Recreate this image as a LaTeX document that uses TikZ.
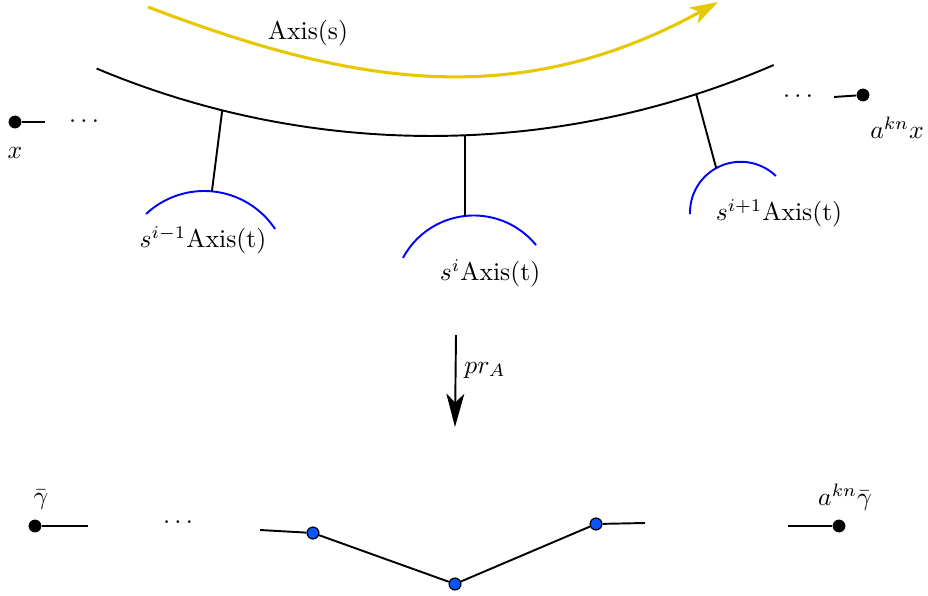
\documentclass[tikz,border=0pt]{standalone}
\usetikzlibrary{arrows.meta}
\definecolor{axisyellow}{RGB}{230,200,0}
\definecolor{ptblue}{RGB}{10,85,255}
\begin{document}
\begin{tikzpicture}[x=0.39pt,y=-0.39pt,
  bigdot/.style={circle,fill=black,inner sep=0pt,minimum size=5pt},
  bluept/.style={circle,draw=black,fill=ptblue,line width=0.5pt,inner sep=0pt,minimum size=4.6pt},
  curve/.style={line width=0.75pt},
  tcurve/.style={blue,line width=0.75pt},
  lbl/.style={inner sep=0pt}]
\useasboundingbox (0,0) rectangle (928,596);

% yellow arrow Axis(s)
\coordinate (ys) at (148,7);
\coordinate (ye) at (718,2);
\draw[axisyellow,line width=1.2pt,-{Stealth[length=11pt,width=7pt,inset=3pt]}]
  (ys) .. controls (345,82) and (513,115) .. (ye);
\node[lbl] (laxs) at (308,33) {Axis(s)};

% main black arc
\draw[curve] plot[domain=66.6:112.8,samples=80,variable=\t]
  ({431+863*cos(\t)},{-727+863*sin(\t)});
\coordinate (b1) at ({431+863*cos(104)},{-727+863*sin(104)});
\coordinate (b2) at ({431+863*cos(87.74)},{-727+863*sin(87.74)});
\coordinate (b3) at ({431+863*cos(72.1)},{-727+863*sin(72.1)});

% blue arcs
\draw[tcurve] plot[domain=-133.1:-33.6,samples=40,variable=\t]
  ({204.2+85.1*cos(\t)},{276.1+85.1*sin(\t)});
\coordinate (a1) at ({204.2+85.1*cos(-84.8)},{276.1+85.1*sin(-84.8)});
\draw[tcurve] plot[domain=-151.9:-39.2,samples=40,variable=\t]
  ({473.8+80.3*cos(\t)},{295.8+80.3*sin(\t)});
\coordinate (a2) at ({473.8+80.3*cos(-96.3)},{295.8+80.3*sin(-96.3)});
\draw[tcurve] plot[domain=-181.7:-46,samples=40,variable=\t]
  ({740.7+50.7*cos(\t)},{212.5+50.7*sin(\t)});
\coordinate (a3) at ({740.7+50.7*cos(-118.9)},{212.5+50.7*sin(-118.9)});

% branches
\draw[curve] (b1) -- (a1);
\draw[curve] (b2) -- (a2);
\draw[curve] (b3) -- (a3);

\node[lbl] (lt1) at (203,240) {$s^{i-1}$Axis(t)};
\node[lbl] (lt2) at (490,273) {$s^{i}$Axis(t)};
\node[lbl] (lt3) at (779,213) {$s^{i+1}$Axis(t)};

% ends
\node[bigdot] (xdot) at (15,122) {};
\coordinate (xe) at (45,122);
\draw[curve] (xdot) -- (xe);
\node[lbl] (lx) at (15,153) {$x$};
\node[lbl] (d1) at (84,122) {$\cdots$};

\node[lbl] (d2) at (798,97) {$\cdots$};
\coordinate (rs) at (834,97);
\node[bigdot] (rdot) at (863,95) {};
\draw[curve] (rs) -- (rdot);
\node[lbl] (lakx) at (897,128) {$a^{kn}x$};

% projection arrow
\coordinate (prtop) at (456,335);
\coordinate (prbot) at (455,427);
\draw[curve,-{Stealth[length=13pt,width=7pt,inset=3.5pt]}] (prtop) -- (prbot);
\node[lbl] (lpr) at (485,370) {$pr_A$};

% bottom
\node[bigdot] (g0) at (35,526) {};
\coordinate (g0e) at (88,526);
\draw[curve] (g0) -- (g0e);
\node[lbl] (lg) at (41,500) {$\bar\gamma$};
\node[lbl] (d3) at (178,523) {$\cdots$};

\coordinate (g1s) at (260,530);
\coordinate (g3e) at (645,523);
\node[bluept] (p1) at (313,533) {};
\node[bluept] (p2) at (455,584) {};
\node[bluept] (p3) at (596,524) {};
\draw[curve] (g1s) -- (p1) -- (p2) -- (p3) -- (g3e);

\coordinate (g4s) at (788,526);
\node[bigdot] (g4) at (839,526) {};
\draw[curve] (g4s) -- (g4);
\node[lbl] (lag) at (845,497) {$a^{kn}\bar\gamma$};
\end{tikzpicture}
\end{document}
